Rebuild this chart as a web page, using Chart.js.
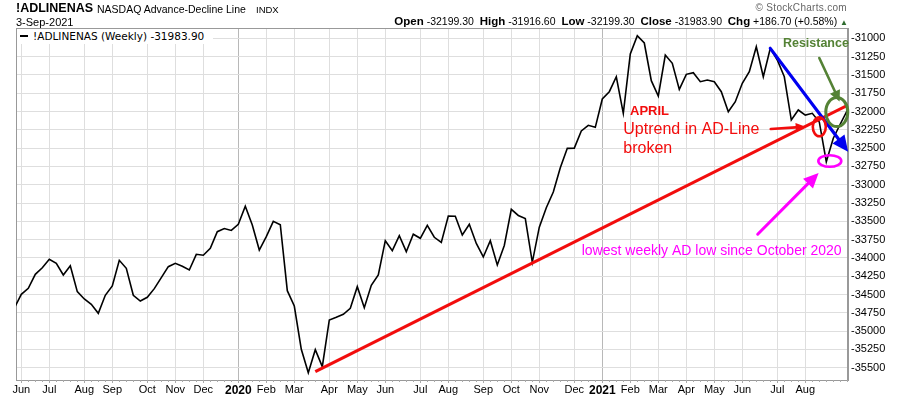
<!DOCTYPE html>
<html>
<head>
<meta charset="utf-8">
<script src="https://cdn.jsdelivr.net/npm/chart.js@4.4.1/dist/chart.umd.min.js"></script>
<style>
html, body { margin: 0; padding: 0; background: #fff; }
#wrap { position: relative; width: 900px; height: 396px; overflow: hidden; font-family: Arial, "Liberation Sans", sans-serif; }
#wrap canvas { position: absolute; left: 0; top: 0; }
.t { position: absolute; line-height: 1; white-space: nowrap; color: #000; }
.b { font-weight: bold; font-size: 11.5px; }
</style>
</head>
<body>
<div id="wrap">
  <canvas id="c" width="900" height="396"></canvas>
  <div class="t" style="left:16px;top:2px;font-size:12.5px;font-weight:bold">!ADLINENAS</div>
  <div class="t" style="left:97px;top:4px;font-size:10.5px">NASDAQ Advance-Decline Line</div>
  <div class="t" style="left:256px;top:5px;font-size:9.5px">INDX</div>
  <div class="t" style="left:16px;top:17px;font-size:11px">3-Sep-2021</div>
  <div class="t" style="right:53px;top:3px;font-size:10px;color:#666;letter-spacing:0.3px">&#169; StockCharts.com</div>
  <div class="t" style="right:52px;top:16px;font-size:10.5px"><span class="b">Open</span> -32199.30&nbsp; <span class="b">High</span> -31916.60&nbsp; <span class="b">Low</span> -32199.30&nbsp; <span class="b">Close</span> -31983.90&nbsp; <span class="b">Chg</span> +186.70 (+0.58%) <span style="color:#2e6b2e;font-size:8px">&#9650;</span></div>
  <div class="t" style="left:17px;top:29px;height:15px;width:196px;background:#fff;font-family:'DejaVu Sans',sans-serif;font-size:10.5px;line-height:15px"><span style="display:inline-block;width:8px;height:2px;background:#000;vertical-align:middle;margin:0 5px 2px 3px"></span>!ADLINENAS (Weekly) -31983.90</div>
</div>
<script>
// weekly closes of the NASDAQ A/D line, week 0 = 24-May-2019 ... week 119 = 3-Sep-2021
const adlValues = [
  -34684, -34497, -34415, -34224, -34134, -34019, -34074, -34233, -34106, -34461,
  -34561, -34634, -34757, -34511, -34384, -34033, -34142, -34511, -34589, -34538,
  -34420, -34270, -34120, -34074, -34114, -34165, -33951, -33964, -33869, -33642,
  -33598, -33625, -33541, -33295, -33550, -33892, -33710, -33500, -33546, -34448,
  -34657, -35248, -35568, -35254, -35486, -34848, -34811, -34770, -34688, -34393,
  -34680, -34374, -34233, -33765, -33901, -33697, -33915, -33677, -33732, -33554,
  -33718, -33789, -33427, -33430, -33687, -33541, -33803, -33987, -33765, -34097,
  -33830, -33336, -33420, -33462, -34060, -33580, -33315, -33100, -32768, -32503,
  -32500, -32266, -32188, -32216, -31829, -31729, -31525, -32025, -31214, -30964,
  -31064, -31579, -31788, -31228, -31342, -31697, -31492, -31470, -31593, -31570,
  -31593, -31729, -32003, -31866, -31615, -31456, -31115, -31525, -31137, -31296,
  -31525, -32116, -31979, -32048, -32025, -32143, -32686, -32365, -32170.6, -31983.9
];

// month gridlines (week index) and their labels
const monthWeeks = [1, 5, 10, 14, 19, 23, 27, 32, 36, 40, 45, 49, 53, 58, 62, 67, 71, 75, 80, 84, 88, 92, 96, 100, 104, 109, 113];
const monthLabels = ['Jun', 'Jul', 'Aug', 'Sep', 'Oct', 'Nov', 'Dec', '2020', 'Feb', 'Mar', 'Apr', 'May', 'Jun', 'Jul', 'Aug', 'Sep', 'Oct', 'Nov', 'Dec', '2021', 'Feb', 'Mar', 'Apr', 'May', 'Jun', 'Jul', 'Aug'];
const yTicks = [-35500, -35250, -35000, -34750, -34500, -34250, -34000, -33750, -33500, -33250, -33000, -32750, -32500, -32250, -32000, -31750, -31500, -31250, -31000];

// hand-drawn annotations, in (week, value) units
const trendLine = [{ x: 43, y: -35554 }, { x: 119.1, y: -31912 }];
const downArrow = [{ x: 108, y: -31137 }, { x: 119.12, y: -32549 }];
const aprilArrow = [{ x: 108.06, y: -32239 }, { x: 113.06, y: -32208 }];
const greenArrow = [{ x: 115, y: -31269 }, { x: 117.9, y: -31863 }];
const magentaArrow = [{ x: 106.2, y: -33677 }, { x: 114.9, y: -32840 }];
const redRing = { x: 115, y: -32208 };
const greenRing = { x: 117.5, y: -32007 };
const magentaRing = { x: 116.5, y: -32676 };

const RED = '#f20d0d', BLUE = '#0000f0', GREEN = '#548235', MAGENTA = '#ff00ff';

function arrow(ctx, a, b, color, w, hl, hw) {
  const ang = Math.atan2(b[1] - a[1], b[0] - a[0]);
  const bx = b[0] - Math.cos(ang) * hl, by = b[1] - Math.sin(ang) * hl;
  ctx.strokeStyle = color; ctx.fillStyle = color; ctx.lineWidth = w;
  ctx.beginPath(); ctx.moveTo(a[0], a[1]); ctx.lineTo(bx, by); ctx.stroke();
  ctx.beginPath();
  ctx.moveTo(b[0], b[1]);
  ctx.lineTo(bx + Math.sin(ang) * hw / 2, by - Math.cos(ang) * hw / 2);
  ctx.lineTo(bx - Math.sin(ang) * hw / 2, by + Math.cos(ang) * hw / 2);
  ctx.closePath(); ctx.fill();
}

function ring(ctx, c, rx, ry, color, w) {
  ctx.strokeStyle = color; ctx.lineWidth = w;
  ctx.beginPath(); ctx.ellipse(c[0], c[1], rx, ry, 0, 0, Math.PI * 2); ctx.stroke();
}

const overlay = {
  id: 'overlay',
  beforeDatasetsDraw(chart) {
    const { ctx, chartArea: a, scales: { x } } = chart;
    ctx.save();
    ctx.strokeStyle = '#999'; ctx.lineWidth = 1;
    ctx.strokeRect(a.left + 0.5, a.top + 0.5, a.right - a.left - 1, a.bottom - a.top);
    // small weekly ticks under the axis
    ctx.strokeStyle = '#aaa';
    for (let i = 0; i < adlValues.length; i++) {
      const px = Math.round(x.getPixelForValue(i)) + 0.5;
      if (px < a.left || px > a.right) continue;
      ctx.beginPath(); ctx.moveTo(px, a.bottom); ctx.lineTo(px, a.bottom + 2); ctx.stroke();
    }
    ctx.restore();
  },
  afterDatasetsDraw(chart) {
    const { ctx, scales: { x, y } } = chart;
    const P = p => [x.getPixelForValue(p.x), y.getPixelForValue(p.y)];
    ctx.save();
    ctx.lineCap = 'round';
    arrow(ctx, P(downArrow[0]), P(downArrow[1]), BLUE, 3.2, 16, 15);
    ring(ctx, P(redRing), 6.5, 9.5, RED, 2.6);
    ring(ctx, P(greenRing), 11, 14.5, GREEN, 3);
    ring(ctx, P(magentaRing), 11.5, 5.8, MAGENTA, 2.6);
    arrow(ctx, P(greenArrow[0]), P(greenArrow[1]), GREEN, 2.6, 11, 11);
    arrow(ctx, P(magentaArrow[0]), P(magentaArrow[1]), MAGENTA, 3, 15, 14);
    arrow(ctx, P(aprilArrow[0]), P(aprilArrow[1]), RED, 2.6, 10, 9);

    ctx.textBaseline = 'middle';
    ctx.textAlign = 'left';
    ctx.fillStyle = RED;
    ctx.font = 'bold 13px Arial, "Liberation Sans", sans-serif';
    let p = P({ x: 87.96, y: -32000 });
    ctx.fillText('APRIL', p[0], p[1]);
    ctx.font = '16px Arial, "Liberation Sans", sans-serif';
    p = P({ x: 87.0, y: -32253 });
    ctx.fillText('Uptrend in AD-Line', p[0], p[1]);
    p = P({ x: 87.0, y: -32503 });
    ctx.fillText('broken', p[0], p[1]);

    ctx.fillStyle = GREEN;
    ctx.font = 'bold 12.5px Arial, "Liberation Sans", sans-serif';
    p = P({ x: 109.8, y: -31078 });
    ctx.fillText('Resistance', p[0], p[1]);

    ctx.fillStyle = MAGENTA;
    ctx.font = '14px Arial, "Liberation Sans", sans-serif';
    p = P({ x: 81.06, y: -33912 });
    ctx.fillText('lowest weekly AD low since October 2020', p[0], p[1]);
    ctx.restore();
  }
};

new Chart(document.getElementById('c'), {
  type: 'line',
  data: {
    datasets: [
      {
        label: 'Trend',
        data: trendLine,
        borderColor: RED,
        borderWidth: 3.2,
        pointRadius: 0,
        order: 0
      },
      {
        label: '!ADLINENAS (Weekly)',
        data: adlValues.map((v, i) => ({ x: i, y: v })),
        borderColor: '#000',
        borderWidth: 1.6,
        pointRadius: 0,
        tension: 0,
        order: 1
      }
    ]
  },
  options: {
    responsive: false,
    animation: false,
    devicePixelRatio: 1,
    layout: { padding: { left: 16, top: 28, right: 0, bottom: 0 } },
    plugins: { legend: { display: false }, tooltip: { enabled: false } },
    scales: {
      x: {
        type: 'linear',
        min: 0.243,
        max: 119.1,
        afterBuildTicks: s => { s.ticks = monthWeeks.map(v => ({ value: v })); },
        afterFit: s => { s.height = 16; },
        grid: {
          color: c => (c.tick && (c.tick.value === 32 || c.tick.value === 84)) ? '#b8b8b8' : '#dedede',
          tickLength: 3,
          tickColor: '#aaa'
        },
        border: { color: '#999' },
        ticks: {
          autoSkip: false,
          maxRotation: 0,
          padding: 0,
          color: '#000',
          font: c => {
            const yr = c.tick && (c.tick.value === 32 || c.tick.value === 84);
            return { family: 'Arial, "Liberation Sans", sans-serif', size: yr ? 12 : 11, weight: yr ? 'bold' : 'normal' };
          },
          callback: v => { const i = monthWeeks.indexOf(v); return i < 0 ? '' : monthLabels[i]; }
        }
      },
      y: {
        position: 'right',
        min: -35668,
        max: -30859,
        afterBuildTicks: s => { s.ticks = yTicks.map(v => ({ value: v })); },
        afterFit: s => { s.width = 52; },
        grid: { color: '#dedede', drawTicks: false },
        border: { color: '#999' },
        ticks: {
          padding: 3,
          color: '#000',
          font: { family: 'Arial, "Liberation Sans", sans-serif', size: 11 },
          callback: v => String(v)
        }
      }
    }
  },
  plugins: [overlay]
});
</script>
</body>
</html>
